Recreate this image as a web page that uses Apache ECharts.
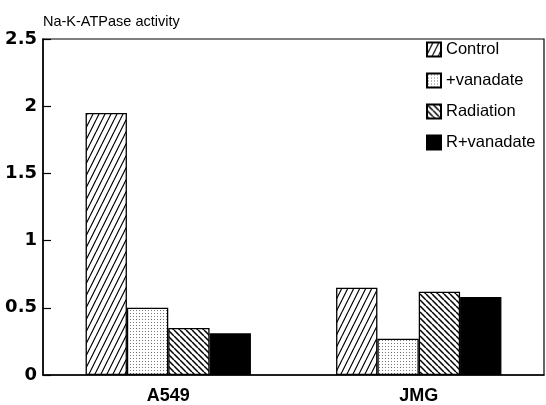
<!DOCTYPE html>
<html>
<head>
<meta charset="utf-8">
<script src="https://cdn.jsdelivr.net/npm/echarts@6/dist/echarts.min.js"></script>
<style>
html,body{margin:0;padding:0;background:#fff;}
#chart{width:546px;height:405px;}
</style>
</head>
<body>
<div id="chart"></div>
<script>
const categories = ['A549', 'JMG'];
const seriesNames = ['Control', '+vanadate', 'Radiation', 'R+vanadate'];
const control = [1.95, 0.65];
const vanadate = [0.50, 0.27];
const radiation = [0.35, 0.62];
const rVanadate = [0.31, 0.58];
const yTicks = [0, 0.5, 1, 1.5, 2, 2.5];
const titleText = 'Na-K-ATPase activity';

function makeTile(w, h, draw) {
  const c = document.createElement('canvas');
  c.width = w; c.height = h;
  const ctx = c.getContext('2d');
  ctx.fillStyle = '#fff';
  ctx.fillRect(0, 0, w, h);
  draw(ctx, w, h);
  return c;
}
const fwdHatch = makeTile(6, 12, (ctx, w, h) => {
  ctx.strokeStyle = '#000'; ctx.lineWidth = 1.2;
  ctx.beginPath();
  for (let k = -1; k <= 1; k++) {
    ctx.moveTo(k * w, h); ctx.lineTo(k * w + w, 0);
  }
  ctx.stroke();
});
const backHatch = makeTile(6, 6, (ctx, w, h) => {
  ctx.strokeStyle = '#000'; ctx.lineWidth = 1.5;
  ctx.beginPath();
  for (let k = -1; k <= 1; k++) {
    ctx.moveTo(k * w, 0); ctx.lineTo(k * w + w, h);
  }
  ctx.stroke();
});
const dots = makeTile(3, 3, (ctx) => {
  ctx.fillStyle = '#777';
  ctx.fillRect(1, 1, 1, 1);
});

const fills = [
  { image: fwdHatch, repeat: 'repeat' },
  { image: dots, repeat: 'repeat' },
  { image: backHatch, repeat: 'repeat' },
  '#000'
];
const values = [control, vanadate, radiation, rVanadate];
const FONT = '"Liberation Sans", Arial, Helvetica, sans-serif';
const TICKFONT = '"DejaVu Sans", sans-serif';

const chart = echarts.init(document.getElementById('chart'), null, { renderer: 'canvas' });
chart.setOption({
  animation: false,
  backgroundColor: '#fff',
  title: {
    text: titleText, left: 43, top: 14, padding: 0,
    textStyle: { fontFamily: FONT, fontSize: 14.5, fontWeight: 'normal', color: '#000' }
  },
  legend: {
    orient: 'vertical', left: 426, top: 41, padding: 0,
    itemWidth: 14, itemHeight: 14, itemGap: 14,
    icon: 'rect',
    data: seriesNames,
    textStyle: { fontFamily: FONT, fontSize: 16.5, lineHeight: 17, color: '#000' }
  },
  grid: {
    left: 43, right: 2, top: 39, bottom: 24,
    show: true, borderColor: '#000', borderWidth: 1.2, backgroundColor: 'transparent'
  },
  xAxis: {
    type: 'category', data: categories,
    axisLine: { lineStyle: { color: '#000', width: 1.5 } },
    axisTick: { show: false },
    axisLabel: { fontFamily: FONT, fontSize: 18, fontWeight: 'bold', color: '#000', margin: 12 }
  },
  yAxis: {
    type: 'value', min: 0, max: 2.5, interval: 0.5,
    axisLine: { show: true, lineStyle: { color: '#000', width: 1.5 } },
    axisTick: { show: true, inside: true, length: 8, lineStyle: { color: '#000', width: 1.2 } },
    splitLine: { show: false },
    axisLabel: {
      fontFamily: TICKFONT, fontSize: 18, fontWeight: 'bold', color: '#000', margin: 6,
      formatter: v => (yTicks.indexOf(v) >= 0 ? String(v) : '')
    }
  },
  series: seriesNames.map((name, i) => ({
    name, type: 'bar', data: values[i],
    barGap: '0%', barCategoryGap: '34%',
    itemStyle: { color: fills[i], borderColor: '#000', borderWidth: 1.3 }
  }))
});
</script>
</body>
</html>
